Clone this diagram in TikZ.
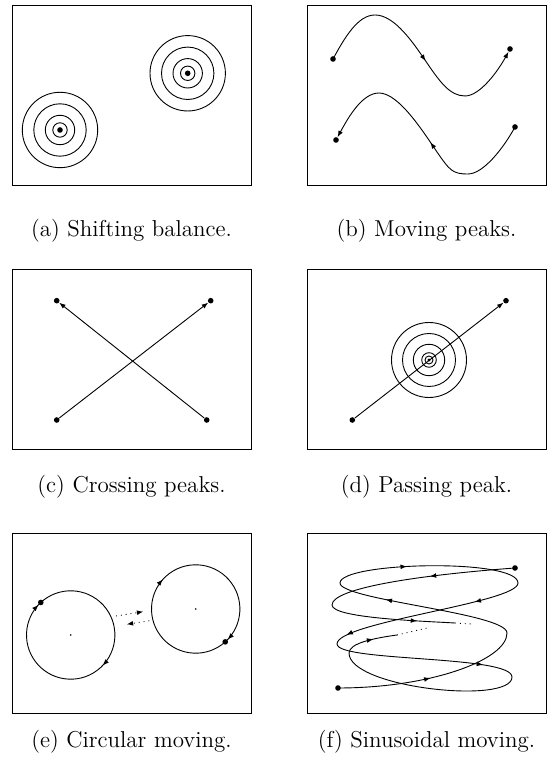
\documentclass[tikz,border=0pt]{standalone}
\usepackage{fontspec}
\usetikzlibrary{arrows.meta,decorations.markings}
\begin{document}
\begin{tikzpicture}[x=0.5pt, y=0.5pt, >={Latex[length=3.2pt,width=2.4pt]},
  panel/.style={draw, line width=0.5pt},
  track/.style={line width=0.45pt},
  peakdot/.style={circle, fill, inner sep=0pt, minimum size=2.8pt},
  tinydot/.style={circle, fill, inner sep=0pt, minimum size=0.9pt},
  midarrow/.style={postaction={decorate, decoration={markings, mark=at position #1 with {\arrow{Latex[length=3.2pt,width=2.4pt]}}}}},
  caption/.style={anchor=base, font=\fontsize{11.5}{14}\selectfont\addfontfeature{LetterSpace=5}}]
\useasboundingbox (0,0) rectangle (550,763);

\draw[panel] (12,577) rectangle (251,757);
\draw[panel] (307,577) rectangle (546,757);
\draw[panel] (12,313) rectangle (251,493);
\draw[panel] (307,313) rectangle (546,493);
\draw[panel] (12,49) rectangle (251,229);
\draw[panel] (307,49) rectangle (546,229);

\node[peakdot] (a1) at (60,633) {};
\node[peakdot] (a2) at (187.7,689.7) {};
\foreach \r in {37.7,26.2,14.7,7.2} {
  \draw[track] (a1) circle[radius=\r];
  \draw[track] (a2) circle[radius=\r];
}
\node[caption] (capa) at (131.5,526) {(a) Shifting balance.};

\node[peakdot] (b1) at (333,704) {};
\node[peakdot] (b2) at (510,714) {};
\node[peakdot] (b3) at (515,636) {};
\node[peakdot] (b4) at (336,623) {};
\draw[track, ->, midarrow=0.53] (b1.center) .. controls +(12,22) and +(-17,0) .. (375,748)
  .. controls +(20,0) and +(-13,19) .. (427,700)
  .. controls +(13,-19) and +(-15,0) .. (465,667)
  .. controls +(15,0) and +(-12,-22) .. (b2);
\draw[track, ->, midarrow=0.47] (b3.center) .. controls +(-12,-22) and +(15,0) .. (468,589)
  .. controls +(-15,0) and +(13,-19) .. (437,611)
  .. controls +(-13,19) and +(20,0) .. (379,670)
  .. controls +(-17,0) and +(12,22) .. (b4);
\node[caption] (capb) at (426.5,526) {(b) Moving peaks.};

\node[peakdot] (c1) at (56.7,462.3) {};
\node[peakdot] (c2) at (210.7,462.3) {};
\node[peakdot] (c3) at (56.7,343) {};
\node[peakdot] (c4) at (206.7,343) {};
\draw[track, ->] (c3) -- (c2);
\draw[track, ->] (c4) -- (c1);
\node[caption] (capc) at (131.5,270) {(c) Crossing peaks.};

\node[peakdot] (d1) at (352.3,343) {};
\node[peakdot] (d2) at (506,462.3) {};
\node[peakdot, minimum size=1.7pt] (d0) at (429,403) {};
\foreach \r in {37.5,26.5,15.7,7.3,4} {
  \draw[track] (d0) circle[radius=\r];
}
\draw[track, ->] (d1) -- (d2);
\node[caption] (capd) at (426.5,270) {(d) Passing peak.};

\node[tinydot] (e1) at (70.7,128) {};
\node[tinydot] (e2) at (195.7,154) {};
\node[peakdot] (e3) at ([shift={(132.6:44.2)}]e1) {};
\node[peakdot] (e4) at ([shift={(-48.1:44.2)}]e2) {};
\draw[track, midarrow=0.49, midarrow=0.988] (e3.center) arc[start angle=132.6, end angle=-227.4, radius=44.2];
\draw[track, midarrow=0.483, midarrow=0.988] (e4.center) arc[start angle=-48.1, end angle=-408.1, radius=44.2];
\coordinate (e5) at (116,147);
\coordinate (e6) at (143.3,151.3);
\coordinate (e7) at (149.3,142.3);
\coordinate (e8) at (126.7,138.7);
\draw[track, dotted, ->] (e5) -- (e6);
\draw[track, dotted, ->] (e7) -- (e8);
\node[caption] (cape) at (131.5,15) {(e) Circular moving.};

\node[peakdot] (f0) at (338,75) {};
\coordinate (f1) at (507,130);
\coordinate (f2) at (340,180);
\coordinate (f3) at (518,180);
\coordinate (f4) at (337,119);
\coordinate (f5) at (512,86);
\coordinate (f6) at (349,110);
\coordinate (f7) at (397,128);
\coordinate (f8) at (427,135);
\node[peakdot] (g0) at (515,195) {};
\coordinate (g1) at (332,158);
\coordinate (g2) at (455,140);
\coordinate (g3) at (472,139);
\draw[track, midarrow=0.5] (f0.center) .. controls +(92,0) and +(0,-27) .. (f1);
\draw[track, midarrow=0.72] (f1) .. controls +(0,20) and +(0,-17) .. (f2);
\draw[track, midarrow=0.38] (f2) .. controls +(0,21) and +(0,25) .. (f3);
\draw[track, midarrow=0.25, midarrow=0.93] (f3) .. controls +(0,-20) and +(0,22) .. (f4);
\draw[track, midarrow=0.82] (f4) .. controls +(0,-18) and +(0,22) .. (f5);
\draw[track] (f5) .. controls +(0,-28) and +(0,-35) .. (f6);
\draw[track, midarrow=0.55] (f6) .. controls +(0,10) and +(-22,-3) .. (f7);
\draw[track, dotted] (f7) -- (f8);
\draw[track, midarrow=0.45] (g0.center) .. controls +(-95,-7) and +(0,17) .. (g1);
\draw[track, midarrow=0.7] (g1) .. controls +(0,-13) and +(-35,2) .. (g2);
\draw[track, dotted] (g2) -- (g3);
\node[caption] (capf) at (426.5,15) {(f) Sinusoidal moving.};
\end{tikzpicture}
\end{document}
